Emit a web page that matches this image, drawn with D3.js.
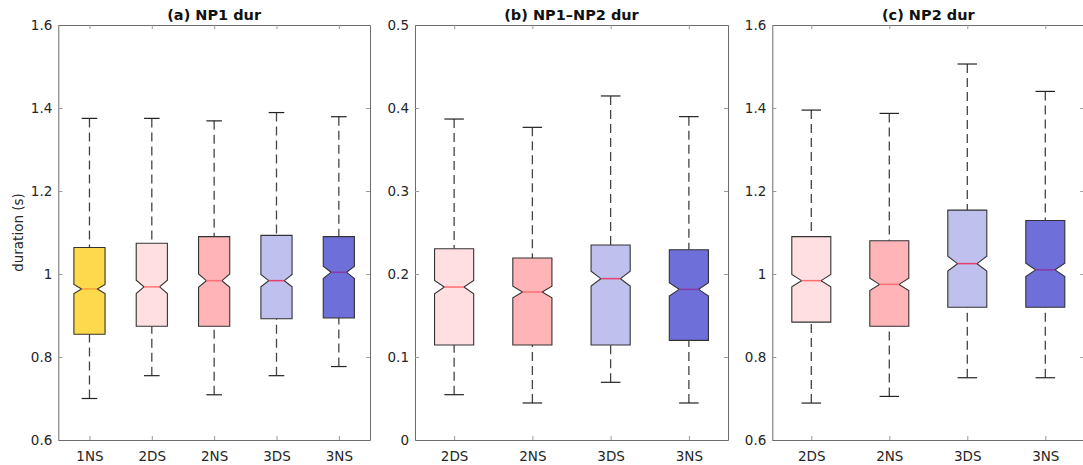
<!DOCTYPE html>
<html>
<head>
<meta charset="utf-8">
<script src="https://cdn.jsdelivr.net/npm/d3@7"></script>
<style>
  html, body { margin: 0; padding: 0; background: #ffffff; }
  svg { display: block; }
  text { font-family: "DejaVu Sans", "Liberation Sans", sans-serif; }
</style>
</head>
<body>
<svg id="chart" width="1083" height="465"></svg>
<script>
// ---------- data ----------
const titles = ["(a) NP1 dur", "(b) NP1\u2013NP2 dur", "(c) NP2 dur"];
const categoriesA = ["1NS", "2DS", "2NS", "3DS", "3NS"];
const categoriesBC = ["2DS", "2NS", "3DS", "3NS"];

// panel (a) NP1 duration
const lowerA  = [0.700, 0.755, 0.709, 0.755, 0.777];
const q1A     = [0.855, 0.874, 0.874, 0.892, 0.894];
const medianA = [0.964, 0.969, 0.984, 0.984, 1.004];
const q3A     = [1.064, 1.074, 1.090, 1.093, 1.090];
const upperA  = [1.375, 1.375, 1.369, 1.389, 1.379];
const notchA  = [0.011, 0.016, 0.016, 0.015, 0.015];

// panel (b) NP1-NP2 duration
const lowerB  = [0.0546, 0.0446, 0.0695, 0.0446];
const q1B     = [0.1145, 0.1145, 0.1145, 0.1200];
const medianB = [0.1843, 0.1783, 0.1944, 0.1815];
const q3B     = [0.2305, 0.2193, 0.2350, 0.2293];
const upperB  = [0.3867, 0.3767, 0.4145, 0.3896];
const notchB  = [0.008, 0.007, 0.009, 0.008];

// panel (c) NP2 duration
const lowerC  = [0.689, 0.705, 0.750, 0.750];
const q1C     = [0.884, 0.874, 0.920, 0.920];
const medianC = [0.984, 0.975, 1.025, 1.010];
const q3C     = [1.090, 1.080, 1.154, 1.129];
const upperC  = [1.395, 1.387, 1.506, 1.440];
const notchC  = [0.015, 0.015, 0.018, 0.016];

// tick values / labels
const ticksAC = [0.6, 0.8, 1.0, 1.2, 1.4, 1.6];
const tickLabelsAC = ["0.6", "0.8", "1", "1.2", "1.4", "1.6"];
const ticksB = [0, 0.1, 0.2, 0.3, 0.4, 0.5];
const tickLabelsB = ["0", "0.1", "0.2", "0.3", "0.4", "0.5"];

const yLabel = "duration (s)";

// ---------- styles ----------
const fillColor = {
  "1NS": "#FFD94C",
  "2DS": "#FFDFE2",
  "2NS": "#FFB5B7",
  "3DS": "#BFC0EE",
  "3NS": "#6E6FD9"
};
const medianColor = {
  "1NS": "#FF9F3A",
  "2DS": "#FF6E72",
  "2NS": "#FF6E74",
  "3DS": "#E8406E",
  "3NS": "#8A3AA8"
};

const svg = d3.select("#chart");
const plotTop = 25, plotBottom = 440;

const panels = [
  { left: 58.3, right: 370, cats: categoriesA, lo: lowerA, q1: q1A, med: medianA, q3: q3A, hi: upperA, notch: notchA,
    domain: [0.6, 1.6], ticks: ticksAC, labels: tickLabelsAC, title: titles[0], ylab: true },
  { left: 415, right: 728, cats: categoriesBC, lo: lowerB, q1: q1B, med: medianB, q3: q3B, hi: upperB, notch: notchB,
    domain: [0, 0.5], ticks: ticksB, labels: tickLabelsB, title: titles[1], ylab: false },
  { left: 772.3, right: 1084.3, cats: categoriesBC, lo: lowerC, q1: q1C, med: medianC, q3: q3C, hi: upperC, notch: notchC,
    domain: [0.6, 1.6], ticks: ticksAC, labels: tickLabelsAC, title: titles[2], ylab: false }
];

panels.forEach(p => {
  const g = svg.append("g");
  const x = d3.scalePoint().domain(p.cats).range([p.left, p.right]).padding(0.5);
  const y = d3.scaleLinear().domain(p.domain).range([plotBottom, plotTop]);
  const step = x.step();
  const w = step * 0.25;      // half box width
  const cw = step * 0.125;    // half cap width

  // axes
  const tickLen = 4;
  const axL = g.append("g").attr("transform", `translate(${p.left},0)`)
    .call(d3.axisLeft(y).tickValues(p.ticks).tickFormat((d, i) => p.labels[i]).tickSizeInner(-tickLen).tickSizeOuter(0).tickPadding(6));
  const axR = g.append("g").attr("transform", `translate(${p.right},0)`)
    .call(d3.axisRight(y).tickValues(p.ticks).tickFormat("").tickSizeInner(-tickLen).tickSizeOuter(0));
  const axT = g.append("g").attr("transform", `translate(0,${plotTop})`)
    .call(d3.axisTop(x).tickFormat("").tickSizeInner(-tickLen).tickSizeOuter(0));
  const axB = g.append("g").attr("transform", `translate(0,${plotBottom})`)
    .call(d3.axisBottom(x).tickSizeInner(-tickLen).tickSizeOuter(0).tickPadding(8));

  [axL, axR, axT, axB].forEach(a => {
    a.select(".domain").attr("stroke", "#6b6b6b").attr("stroke-width", 1);
    a.selectAll(".tick line").attr("stroke", "#9a9a9a").attr("stroke-width", 1);
    a.selectAll(".tick text").attr("fill", "#262626").style("font-size", "13.5px")
      .style("font-family", "'DejaVu Sans', sans-serif");
  });
  axB.selectAll(".tick text").attr("y", 20.5).attr("dy", 0);

  // title
  svg.append("text")
    .attr("x", (p.left + p.right) / 2)
    .attr("y", 20)
    .attr("text-anchor", "middle")
    .attr("fill", "#111")
    .style("font-size", "14.5px")
    .style("font-weight", "bold")
    .text(p.title);

  if (p.ylab) {
    svg.append("text")
      .attr("transform", `translate(23,${(plotTop + plotBottom) / 2}) rotate(-90)`)
      .attr("text-anchor", "middle")
      .attr("fill", "#262626")
      .style("font-size", "13.5px")
      .text(yLabel);
  }

  // boxes
  p.cats.forEach((c, i) => {
    const cx = x(c);
    const bg = g.append("g");
    // whiskers (dashed)
    bg.append("line")
      .attr("x1", cx).attr("x2", cx)
      .attr("y1", y(p.hi[i])).attr("y2", y(p.q3[i]))
      .attr("stroke", "#444").attr("stroke-width", 1.3).attr("stroke-dasharray", "9,5");
    bg.append("line")
      .attr("x1", cx).attr("x2", cx)
      .attr("y1", y(p.lo[i])).attr("y2", y(p.q1[i]))
      .attr("stroke", "#444").attr("stroke-width", 1.3).attr("stroke-dasharray", "9,5");
    // caps
    [p.hi[i], p.lo[i]].forEach(v => {
      bg.append("line")
        .attr("x1", cx - cw).attr("x2", cx + cw)
        .attr("y1", y(v)).attr("y2", y(v))
        .attr("stroke", "#222").attr("stroke-width", 1.2);
    });
    // notched box
    const nlo = p.med[i] - p.notch[i], nhi = p.med[i] + p.notch[i];
    const pts = [
      [cx - w, y(p.q1[i])], [cx - w, y(nlo)], [cx - w / 2, y(p.med[i])], [cx - w, y(nhi)],
      [cx - w, y(p.q3[i])], [cx + w, y(p.q3[i])], [cx + w, y(nhi)], [cx + w / 2, y(p.med[i])],
      [cx + w, y(nlo)], [cx + w, y(p.q1[i])]
    ];
    bg.append("polygon")
      .attr("points", pts.map(d => d.join(",")).join(" "))
      .attr("fill", fillColor[c])
      .attr("stroke", "#333").attr("stroke-width", 1.1).attr("stroke-linejoin", "miter");
    bg.append("line")
      .attr("x1", cx - w / 2).attr("x2", cx + w / 2)
      .attr("y1", y(p.med[i])).attr("y2", y(p.med[i]))
      .attr("stroke", medianColor[c]).attr("stroke-width", 1.5);
  });
});
</script>
</body>
</html>
